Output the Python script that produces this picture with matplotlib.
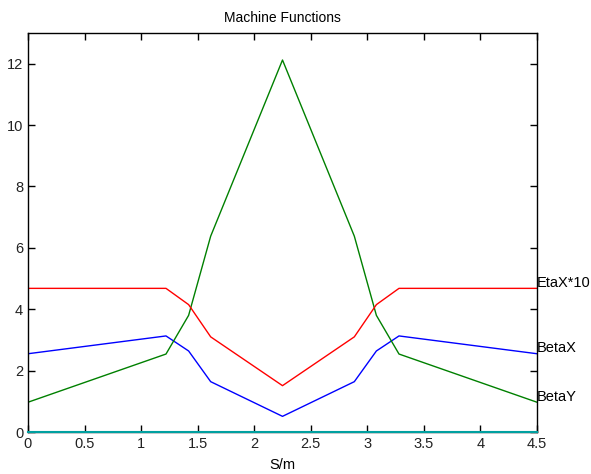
import matplotlib
matplotlib.use("Agg")
import matplotlib.pyplot as plt

plt.rcParams['font.family'] = ['Liberation Sans', 'DejaVu Sans']

s = [0.0, 1.22, 1.42, 1.615, 2.25, 2.885, 3.08, 3.28, 4.5]
beta_x = [2.55, 3.13, 2.64, 1.64, 0.51, 1.64, 2.64, 3.13, 2.55]
beta_y = [0.97, 2.54, 3.80, 6.38, 12.12, 6.38, 3.80, 2.54, 0.97]
eta_x10 = [4.68, 4.68, 4.15, 3.10, 1.51, 3.10, 4.15, 4.68, 4.68]
zero_line = [0.0] * len(s)
labels = ["EtaX*10", "BetaX", "BetaY"]

fig = plt.figure(figsize=(5.91, 4.74), dpi=100)
ax = fig.add_axes([28/591, 42/474, 509/591, 399/474])

ax.plot(s, beta_x, color='blue', lw=1)
ax.plot(s, beta_y, color='#008000', lw=1)
ax.plot(s, eta_x10, color='red', lw=1)
ax.plot(s, zero_line, color='#00a0a0', lw=1.5, clip_on=False, zorder=5)

ax.set_xlim(0, 4.5)
ax.set_ylim(0, 13)
ax.set_xticks([0, 0.5, 1, 1.5, 2, 2.5, 3, 3.5, 4, 4.5])
ax.set_xticklabels(['0', '0.5', '1', '1.5', '2', '2.5', '3', '3.5', '4', '4.5'])
ax.set_yticks([0, 2, 4, 6, 8, 10, 12])
ax.tick_params(direction='in', top=True, right=True, labelsize=10.5, length=5, width=1,
               labelcolor='#222222')
for sp in ax.spines.values():
    sp.set_linewidth(1)

for lab, series in zip(labels, [eta_x10, beta_x, beta_y]):
    ax.annotate(lab, xy=(s[-1], series[-1]), xytext=(0, 4), textcoords='offset points',
                ha='left', va='center', fontsize=10.5, annotation_clip=False)

ax.set_title("Machine Functions", fontsize=10, pad=8)
ax.set_xlabel("S/m", fontsize=10.5, labelpad=5)

fig.savefig("out.png", dpi=100)
